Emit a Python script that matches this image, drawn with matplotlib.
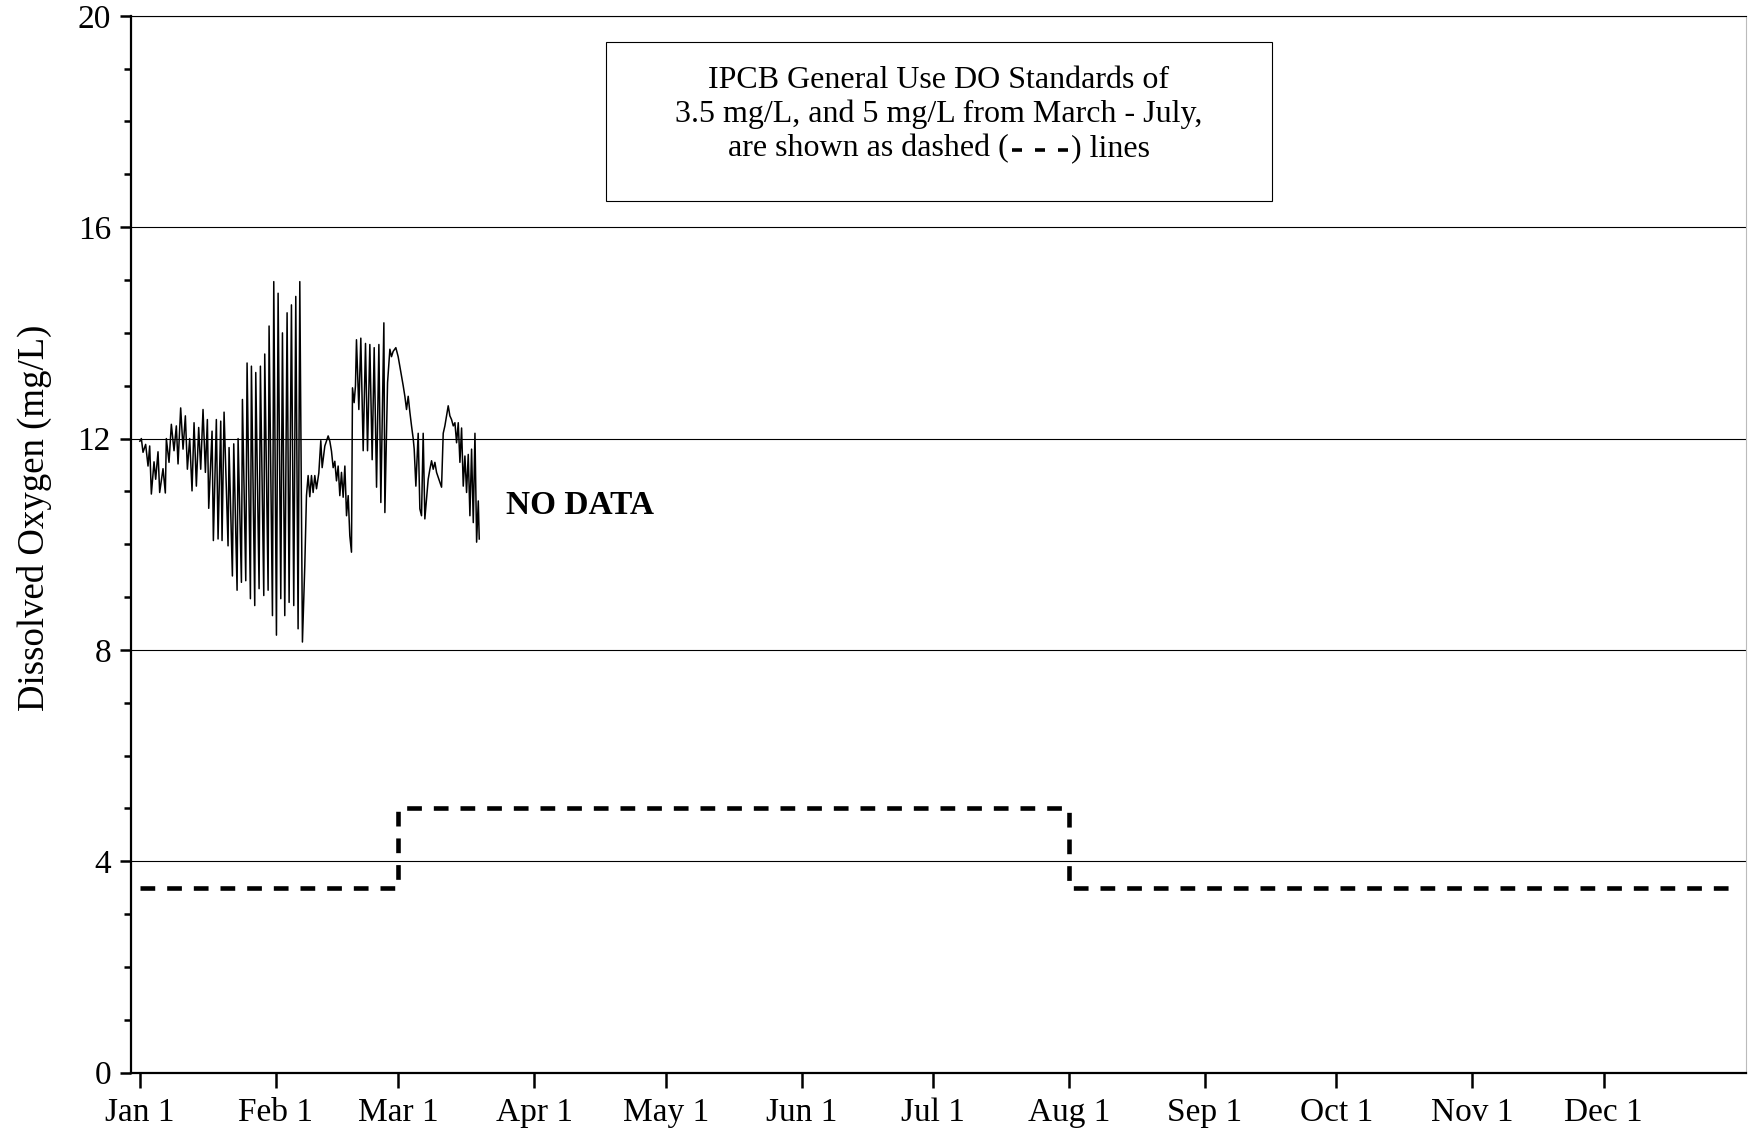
import matplotlib
matplotlib.use("Agg")
import matplotlib.pyplot as plt
from matplotlib.patches import Rectangle
from matplotlib.lines import Line2D

# ---------------- data ----------------
# day of year (0 = Jan 1) and dissolved oxygen (mg/L)
t_days = [0.0, 0.34, 0.72, 1.32, 1.86, 2.24, 2.62, 3.23, 3.61, 4.14, 4.52, 5.28, 5.81,
          6.04, 6.65, 7.18, 7.79, 8.32, 8.71, 9.31, 9.85, 10.38, 10.84, 11.37, 11.90,
          12.36, 12.89, 13.42, 13.88, 14.41, 14.95, 15.40, 15.71, 16.47, 16.77, 17.45,
          17.84, 18.45, 18.75, 19.21,
          20.12, 20.35, 21.11, 21.42, 22.18, 22.41, 23.17, 23.40, 24.16, 24.46, 25.22,
          25.45, 26.21, 26.44, 27.20, 27.50, 28.27, 28.49, 29.26, 29.48, 30.25, 30.55,
          31.16, 31.54, 32.15, 32.53, 33.06, 33.59, 34.05, 34.58, 35.11, 35.57, 36.10,
          36.49, 37.09,
          37.63, 38.01, 38.39, 38.77, 39.15, 39.53, 39.91, 40.30, 40.83, 41.28, 41.59,
          42.20, 42.96, 43.34, 43.72, 44.10, 44.48, 44.86, 45.24, 45.62, 46.00, 46.38,
          46.77, 47.15, 47.53, 47.90, 48.28, 48.51, 48.89, 49.19, 49.42, 49.96, 50.41,
          50.95, 51.48, 51.94, 52.47, 53.00, 53.46, 54.00, 54.53, 54.98, 55.67, 55.90,
          56.51, 57.04,
          57.41, 57.79, 58.40, 58.93, 59.31, 60.08, 60.46, 60.84, 61.22, 61.60, 61.98,
          62.36, 62.59, 62.97, 63.50, 63.88, 64.26, 64.64, 65.02, 65.40, 65.78, 66.17,
          66.55, 66.93, 67.31, 67.69, 68.45, 68.83, 69.21, 69.59, 69.97, 70.35, 70.73,
          71.11, 71.50, 71.88, 72.26, 72.64, 73.02, 73.40, 73.78, 74.16, 74.54, 74.92,
          75.30, 75.68, 76.07, 76.45, 76.83, 77.21, 77.43]
do_mgl = [11.95, 12.0, 11.74, 11.89, 11.48, 11.86, 10.95, 11.56, 11.23, 11.75, 10.98, 11.43, 10.97,
          12.0, 11.55, 12.27, 11.77, 12.24, 11.52, 12.58, 11.8, 12.43, 11.42, 12.0, 11.01,
          12.3, 11.1, 12.21, 11.42, 12.55, 11.36, 12.36, 10.68, 12.14, 10.07, 12.36,
          10.1, 12.33, 10.07, 12.5,
          9.97, 11.83, 9.4, 11.9, 9.13, 12.0, 9.28, 12.74, 9.31, 13.43, 8.97,
          13.37, 8.84, 13.25, 9.16, 13.37, 9.03, 13.6, 9.13, 14.13, 8.65, 14.97,
          8.28, 14.75, 8.97, 14.0, 8.65, 14.38, 8.9, 14.53, 8.84, 14.69, 8.4,
          14.97, 8.15,
          9.6, 10.92, 11.3, 10.9, 11.3, 10.98, 11.3, 11.05, 11.35, 11.96, 11.45,
          11.86, 12.05, 11.95, 11.76, 11.45, 11.57, 11.2, 11.48, 10.92, 11.36, 10.89,
          11.48, 10.54, 10.92, 10.16, 9.85, 12.96, 12.68, 13.0, 13.87, 12.55, 13.9,
          11.77, 13.8, 11.77, 13.78, 11.6, 13.72, 11.08, 13.78, 10.79, 14.19, 10.6,
          13.06, 13.69,
          13.55, 13.65, 13.72, 13.55, 13.37, 13.0, 12.8, 12.55, 12.8, 12.5, 12.24,
          12.0, 11.8, 11.1, 12.1, 10.67, 10.54, 12.1, 10.48, 10.85, 11.23, 11.42,
          11.58, 11.42, 11.55, 11.36, 11.17, 11.08, 12.1, 12.24, 12.43, 12.62, 12.43,
          12.36, 12.24, 12.3, 11.92, 12.3, 11.55, 12.2, 11.1, 11.67, 10.98, 11.7,
          10.54, 11.8, 10.41, 12.1, 10.04, 10.82, 10.1]

# IPCB standards: level starting at each day, until year end
std_start_days = [0, 59, 212]
std_levels = [3.5, 5.0, 3.5]
std_end_day = 365

month_days = [0, 31, 59, 90, 120, 151, 181, 212, 243, 273, 304, 334]
month_labels = ["Jan 1", "Feb 1", "Mar 1", "Apr 1", "May 1", "Jun 1",
                "Jul 1", "Aug 1", "Sep 1", "Oct 1", "Nov 1", "Dec 1"]
y_major = [0, 4, 8, 12, 16, 20]

box_line1 = "IPCB General Use DO Standards of"
box_line2 = "3.5 mg/L, and 5 mg/L from March - July,"
box_line3_left = "are shown as dashed ("
box_line3_right = ") lines"

# ---------------- style ----------------
plt.rcParams['font.family'] = ['Liberation Serif', 'DejaVu Serif']
plt.rcParams['lines.scale_dashes'] = False

fig = plt.figure(figsize=(17.48, 11.28), dpi=100)
ax = fig.add_axes([0.075, 0.049, 0.924, 0.937])

ax.set_xlim(-2, 366.5)
ax.set_ylim(0, 20)

# gridlines
for yv in y_major[1:]:
    ax.axhline(yv, color='black', lw=0.8, zorder=1)

# data
ax.plot(t_days, do_mgl, color='black', lw=1.1, zorder=3)

# standards step line
sx = std_start_days + [std_end_day]
sy = std_levels + [std_levels[-1]]
ax.step(sx, sy, where='post', color='black', lw=3.3, dashes=(10.6, 8.6), zorder=3)

# annotation box
ax.add_patch(Rectangle((106.3, 16.5), 152.1, 3.0, fill=False, edgecolor='black',
                       lw=0.8, zorder=4))
cx = 182.3
fs_box = 23
ax.text(cx, 18.77, box_line1, ha='center', va='center', fontsize=fs_box, zorder=5)
ax.text(cx, 18.13, box_line2, ha='center', va='center', fontsize=fs_box, zorder=5)

# third line: text pieces with a short dashed sample between them
y3 = 17.48
fig.canvas.draw()
renderer = fig.canvas.get_renderer()
tl = ax.text(0, y3, box_line3_left, ha='left', va='center', fontsize=fs_box, zorder=5)
tr = ax.text(0, y3, box_line3_right, ha='left', va='center', fontsize=fs_box, zorder=5)
wl = tl.get_window_extent(renderer).width
wr = tr.get_window_extent(renderer).width
dash_on, dash_off, pad_px = 10.0, 13.0, 3.5
wd = 3 * dash_on + 2 * dash_off + 2 * pad_px
total = wl + wd + wr
cxd, cyd = ax.transData.transform((cx, y3))
x0 = cxd - total / 2
inv = ax.transData.inverted()
tl.set_x(inv.transform((x0, 0))[0])
tr.set_x(inv.transform((x0 + wl + wd, 0))[0])
ys = cyd - 1.0
for k in range(3):
    xa = x0 + wl + pad_px + k * (dash_on + dash_off)
    fig.add_artist(Line2D([xa, xa + dash_on], [ys, ys], transform=None,
                          color='black', lw=2.6, solid_capstyle='butt', zorder=6))

ax.text(83.5, 10.74, "NO DATA", fontsize=24, fontweight='bold', ha='left', va='center')

# axes styling
ax.set_xticks(month_days)
ax.set_xticklabels(month_labels, fontsize=24)
ax.set_yticks(y_major)
ax.set_yticklabels([str(v) for v in y_major], fontsize=24)
ax.set_yticks(range(0, 21), minor=True)
ax.tick_params(axis='y', which='major', direction='out', length=8, width=1.8, pad=6.5)
ax.tick_params(axis='y', which='minor', direction='out', length=5, width=1.8)
ax.tick_params(axis='x', which='major', direction='out', length=11, width=1.8, pad=7)

ax.spines['left'].set_linewidth(1.6)
ax.spines['bottom'].set_linewidth(1.6)
ax.spines['top'].set_linewidth(0.8)
ax.spines['right'].set_linewidth(0.8)
ax.spines['right'].set_color('#bbbbbb')

ax.set_ylabel("Dissolved Oxygen (mg/L)", fontsize=26.5)
ax.yaxis.set_label_coords(-0.049, 0.525)

fig.savefig("out.png", dpi=100)
